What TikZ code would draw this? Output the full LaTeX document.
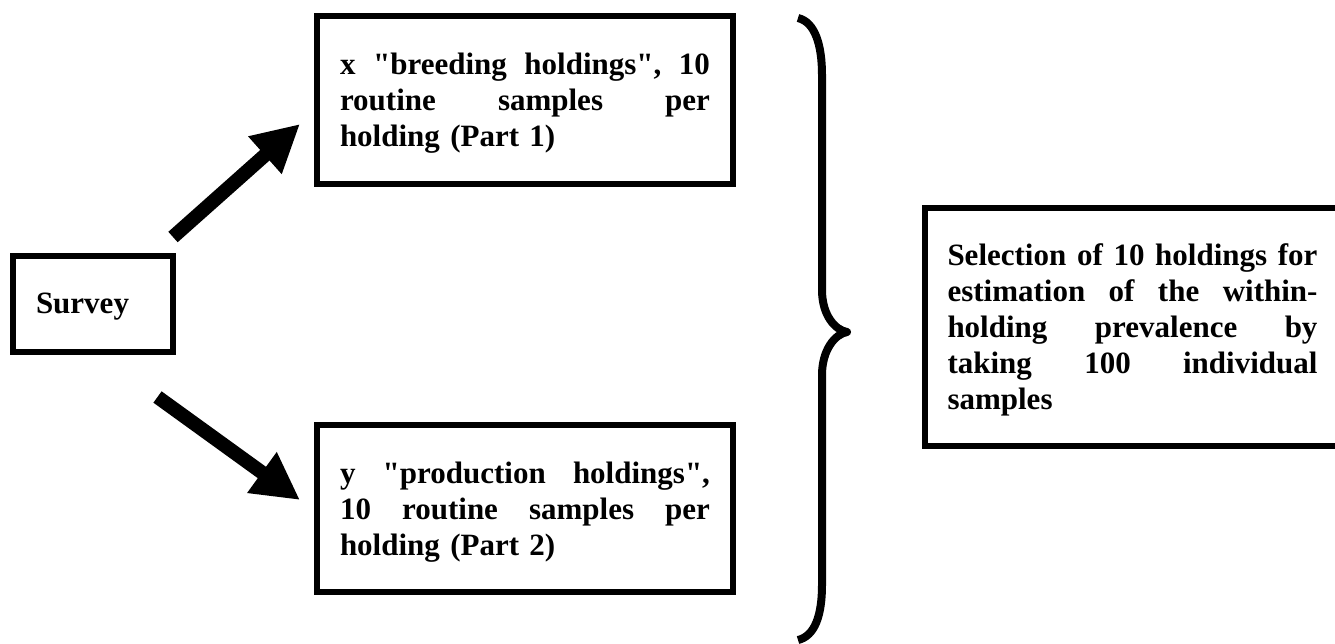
\documentclass[tikz,border=0pt]{standalone}
\usepackage{fontspec}
\setmainfont{Liberation Serif}[Ligatures=TeXOff]
\usetikzlibrary{arrows.meta}
\newcommand{\jl}[1]{\leavevmode\hbox to 370pt{#1}}
\tikzset{
  boxnode/.style={draw=black, line width=6pt, inner sep=0pt},
  textnode/.style={font=\fontsize{31}{36}\selectfont\bfseries, align=left, inner sep=0pt, text width=370pt},
  bigarrow/.style={line width=14pt, -{Triangle[length=47pt,width=47pt]}},
  bracepath/.style={line width=8pt, line join=round}
}
\begin{document}
\begin{tikzpicture}[x=1pt,y=-1pt]
\useasboundingbox (0,0) rectangle (1335,643);
\clip (0,0) rectangle (1335,643);
\fill[white] (0,0) rectangle (1335,643);

\node[boxnode, minimum width=160pt, minimum height=96pt] (survey) at (93,304) {};
\node[textnode, text width=114pt] (surveytext) at ([yshift=-3pt]survey.center) {Survey};

\node[boxnode, minimum width=416pt, minimum height=168pt] (breed) at (525,100) {};
\node[textnode] (breedtext) at ([yshift=-3pt]breed.center)
  {\jl{x\hfill"breeding\hfill holdings",\hfill 10}\\ \jl{routine\hfill samples\hfill per}\\ holding (Part 1)};

\node[boxnode, minimum width=416pt, minimum height=167pt] (prod) at (525,508.5) {};
\node[textnode] (prodtext) at ([yshift=-4pt]prod.center)
  {\jl{y\hfill"production\hfill holdings",}\\ \jl{10\hfill routine\hfill samples\hfill per}\\ holding (Part 2)};

\node[boxnode, minimum width=415pt, minimum height=238pt] (select) at (1132.5,327) {};
\node[textnode] (selecttext) at ([yshift=-3pt]select.center)
  {\jl{Selection\hfill of\hfill 10\hfill holdings\hfill for}\\ \jl{estimation\hfill of\hfill the\hfill within-}\\ \jl{holding\hfill prevalence\hfill by}\\ \jl{taking\hfill 100\hfill individual}\\ samples};

\coordinate (upTail) at (173,237);
\coordinate (upTip) at (300,124);
\coordinate (dnTail) at (157.5,397);
\coordinate (dnTip) at (300,500);
\draw[bigarrow] (upTail) -- (upTip);
\draw[bigarrow] (dnTail) -- (dnTip);

\draw[bracepath] (798,18) .. controls (815,22) and (822,45) .. (822,75)
  -- (822,290) .. controls (822,315) and (835,330) .. (847,332)
  .. controls (835,334) and (822,350) .. (822,375)
  -- (822,585) .. controls (822,615) and (815,636) .. (798,640);
\end{tikzpicture}
\end{document}
